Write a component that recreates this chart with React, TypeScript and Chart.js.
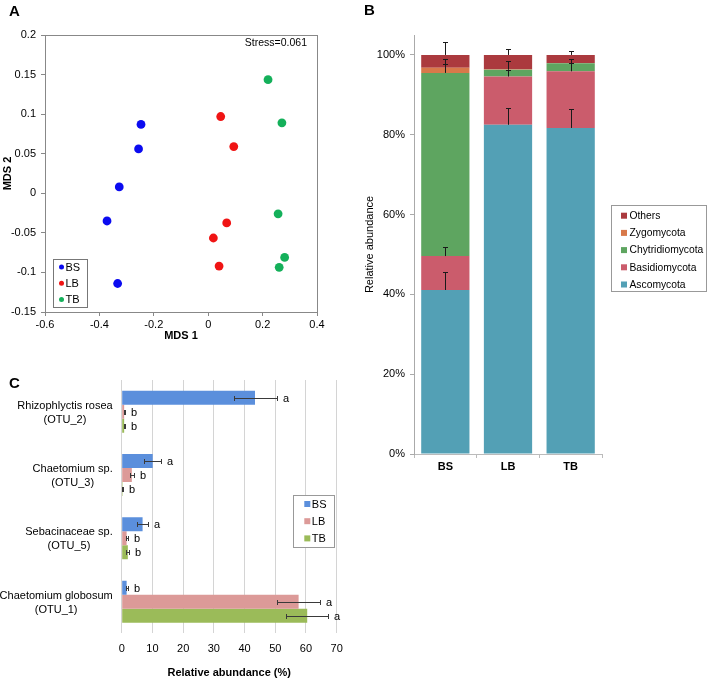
import React, { useEffect, useRef } from 'react';
import { Chart, registerables } from 'chart.js';

Chart.register(...registerables);

const FONT = "'Liberation Sans', Arial, Helvetica, sans-serif";
Chart.defaults.font.family = FONT;
Chart.defaults.color = '#000';

// ---------- Panel A: NMDS ----------
const groupsA = ['BS', 'LB', 'TB'];
const bsX = [-0.247, -0.256, -0.327, -0.372, -0.333];
const bsY = [0.087, 0.056, 0.008, -0.035, -0.114];
const lbX = [0.046, 0.094, 0.068, 0.019, 0.04];
const lbY = [0.097, 0.059, -0.0375, -0.0565, -0.092];
const tbX = [0.22, 0.271, 0.257, 0.281, 0.261];
const tbY = [0.1435, 0.089, -0.026, -0.081, -0.0935];
const colorsA = ['#0b0bf0', '#f01414', '#14b05a'];
const stressText = 'Stress=0.061';

// ---------- Panel B: stacked phyla ----------
const sitesB = ['BS', 'LB', 'TB'];
const phylaB = ['Ascomycota', 'Basidiomycota', 'Chytridiomycota', 'Zygomycota', 'Others'];
const ascomycota = [41.1, 82.5, 81.7];
const basidiomycota = [8.5, 12.1, 14.2];
const chytridiomycota = [45.9, 1.7, 2.0];
const zygomycota = [1.3, 0.1, 0.1];
const others = [3.2, 3.6, 2.0];
const ascoErr = [4.6, 4.2, 4.8];
const basidioErr = [2.2, 1.7, 2.2];
const chytridErr = [2.3, 2.3, 1.2];
const zygoErr = [2.3, 2.2, 1.1];
const othersErr = [3.3, 1.4, 0.9];
const ticksB = [0, 20, 40, 60, 80, 100];
const colorsB = ['#53a0b5', '#cb5c6c', '#5ea560', '#d8794a', '#ab3a3e'];

// ---------- Panel C: OTUs ----------
const taxaC = [
  ['Rhizophlyctis rosea', '(OTU_2)'],
  ['Chaetomium sp.', '(OTU_3)'],
  ['Sebacinaceae sp.', '(OTU_5)'],
  ['Chaetomium globosum', '(OTU_1)'],
];
const groupsC = ['BS', 'LB', 'TB'];
const bsC = [43.4, 10.1, 6.8, 1.6];
const lbC = [0.8, 3.3, 1.6, 57.6];
const tbC = [0.8, 0.3, 2.0, 60.4];
const bsCErr = [7.0, 2.8, 1.9, 0.3];
const lbCErr = [0.2, 0.7, 0.3, 7.0];
const tbCErr = [0.2, 0.1, 0.5, 6.9];
const bsLetters = ['a', 'a', 'a', 'b'];
const lbLetters = ['b', 'b', 'b', 'a'];
const tbLetters = ['b', 'b', 'b', 'a'];
const colorsC = ['#5b8fdc', '#dc9a98', '#9bbb59'];

function fmt(v: number) {
  return String(Math.round(v * 100) / 100);
}

function makeA(): any {
  const xs = [bsX, lbX, tbX];
  const ys = [bsY, lbY, tbY];
  const plugin = {
    id: 'panelA',
    afterDraw(chart: any) {
      const { ctx, chartArea: a } = chart;
      ctx.save();
      ctx.strokeStyle = '#888';
      ctx.lineWidth = 1;
      ctx.strokeRect(Math.round(a.left) + 0.5, Math.round(a.top) + 0.5, Math.round(a.right - a.left), Math.round(a.bottom - a.top));
      // panel letter
      ctx.fillStyle = '#000';
      ctx.font = `bold 15px ${FONT}`;
      ctx.textBaseline = 'alphabetic';
      ctx.textAlign = 'left';
      ctx.fillText('A', 9, 16);
      // stress
      ctx.font = `10.5px ${FONT}`;
      ctx.textAlign = 'right';
      ctx.textBaseline = 'middle';
      ctx.fillText(stressText, a.right - 10, a.top + 8);
      // legend
      const bx = a.left + 8, by = a.bottom - 53, bw = 34, bh = 48;
      ctx.fillStyle = '#fff';
      ctx.fillRect(bx, by, bw, bh);
      ctx.strokeStyle = '#777';
      ctx.strokeRect(Math.round(bx) + 0.5, Math.round(by) + 0.5, bw, bh);
      ctx.font = `11px ${FONT}`;
      ctx.textAlign = 'left';
      groupsA.forEach((g, i) => {
        const cy = by + 8 + i * 16.2;
        ctx.fillStyle = colorsA[i];
        ctx.beginPath();
        ctx.arc(bx + 8.5, cy, 2.5, 0, Math.PI * 2);
        ctx.fill();
        ctx.fillStyle = '#000';
        ctx.fillText(g, bx + 12.5, cy + 0.5);
      });
      ctx.restore();
    },
  };
  return {
    type: 'scatter',
    data: {
      datasets: groupsA.map((g, i) => ({
        label: g,
        data: xs[i].map((x, k) => ({ x, y: ys[i][k] })),
        backgroundColor: colorsA[i],
        borderColor: colorsA[i],
        pointRadius: 4.4,
        pointBorderWidth: 0,
      })),
    },
    options: {
      animation: false,
      responsive: false,
      maintainAspectRatio: false,
      layout: { padding: { left: 0, top: 35, right: 13, bottom: 0 } },
      plugins: { legend: { display: false }, tooltip: { enabled: false } },
      scales: {
        x: {
          type: 'linear',
          min: -0.6,
          max: 0.4,
          ticks: { stepSize: 0.2, padding: 2, font: { size: 11 }, color: '#000', callback: (v: number) => fmt(v) },
          grid: { display: true, drawOnChartArea: false, drawTicks: true, tickLength: 4, color: '#888' },
          border: { color: '#888' },
          title: { display: true, text: 'MDS 1', font: { size: 11, weight: 'bold' }, color: '#000', padding: { top: 0, bottom: 2 } },
          afterFit: (s: any) => { s.height = 33; },
        },
        y: {
          type: 'linear',
          min: -0.15,
          max: 0.2,
          ticks: { stepSize: 0.05, padding: 5, font: { size: 11 }, color: '#000', callback: (v: number) => fmt(v) },
          grid: { display: true, drawOnChartArea: false, drawTicks: true, tickLength: 4, color: '#888' },
          border: { color: '#888' },
          title: { display: true, text: 'MDS 2', font: { size: 11, weight: 'bold' }, color: '#000', padding: { top: 1, bottom: 0 } },
          afterFit: (s: any) => { s.width = 45; },
        },
      },
    },
    plugins: [plugin],
  };
}

function makeB(): any {
  const series = [ascomycota, basidiomycota, chytridiomycota, zygomycota, others];
  const errs = [ascoErr, basidioErr, chytridErr, zygoErr, othersErr];
  const plugin = {
    id: 'panelB',
    afterDatasetsDraw(chart: any) {
      const { ctx } = chart;
      const ys = chart.scales.y;
      ctx.save();
      ctx.strokeStyle = '#1a1a1a';
      ctx.lineWidth = 1;
      for (let j = 0; j < sitesB.length; j++) {
        let cum = 0;
        for (let i = 0; i < series.length; i++) {
          cum += series[i][j];
          const bar = chart.getDatasetMeta(i).data[j];
          const x = Math.round(bar.x) + 0.5;
          const y0 = ys.getPixelForValue(cum);
          const y1 = Math.round(ys.getPixelForValue(cum + errs[i][j])) + 0.5;
          ctx.beginPath();
          ctx.moveTo(x, y0);
          ctx.lineTo(x, y1);
          ctx.moveTo(x - 2.5, y1);
          ctx.lineTo(x + 2.5, y1);
          ctx.stroke();
        }
      }
      ctx.restore();
    },
    afterDraw(chart: any) {
      const { ctx, chartArea: a } = chart;
      ctx.save();
      ctx.fillStyle = '#000';
      ctx.font = `bold 15px ${FONT}`;
      ctx.textAlign = 'left';
      ctx.textBaseline = 'alphabetic';
      ctx.fillText('B', 34, 15);
      // legend
      const bx = a.right + 9, by = 205, bw = 95, bh = 86;
      ctx.fillStyle = '#fff';
      ctx.fillRect(bx, by, bw, bh);
      ctx.strokeStyle = '#999';
      ctx.lineWidth = 1;
      ctx.strokeRect(Math.round(bx) + 0.5, by + 0.5, bw, bh);
      ctx.font = `10.3px ${FONT}`;
      ctx.textBaseline = 'middle';
      for (let k = 0; k < phylaB.length; k++) {
        const i = phylaB.length - 1 - k;
        const cy = by + 10.7 + k * 17.2;
        ctx.fillStyle = colorsB[i];
        ctx.fillRect(bx + 10, cy - 3, 6, 6);
        ctx.fillStyle = '#000';
        ctx.fillText(phylaB[i], bx + 18.5, cy + 0.5);
      }
      ctx.restore();
    },
  };
  return {
    type: 'bar',
    data: {
      labels: sitesB,
      datasets: phylaB.map((p, i) => ({
        label: p,
        data: series[i],
        backgroundColor: colorsB[i],
        borderWidth: 0,
        categoryPercentage: 1,
        barPercentage: 0.77,
      })),
    },
    options: {
      animation: false,
      responsive: false,
      maintainAspectRatio: false,
      layout: { padding: { left: 0, top: 35, right: 114, bottom: 0 } },
      plugins: { legend: { display: false }, tooltip: { enabled: false } },
      scales: {
        x: {
          stacked: true,
          ticks: { padding: 2, font: { size: 11, weight: 'bold' }, color: '#000' },
          grid: { display: true, drawOnChartArea: false, drawTicks: true, tickLength: 4, color: '#bbb' },
          border: { color: '#bbb' },
          afterFit: (s: any) => { s.height = 26; },
        },
        y: {
          stacked: true,
          min: 0,
          max: 105,
          afterBuildTicks: (s: any) => { s.ticks = ticksB.map((v) => ({ value: v })); },
          ticks: { padding: 5, font: { size: 11 }, color: '#000', callback: (v: number) => v + '%' },
          grid: { display: true, drawOnChartArea: false, drawTicks: true, tickLength: 4, color: '#aaa' },
          border: { color: '#aaa' },
          title: { display: true, text: 'Relative abundance', font: { size: 11 }, color: '#000', padding: { top: 33, bottom: 0 } },
          afterFit: (s: any) => { s.width = 84; },
        },
      },
    },
    plugins: [plugin],
  };
}

function makeC(): any {
  const vals = [bsC, lbC, tbC];
  const errs = [bsCErr, lbCErr, tbCErr];
  const letters = [bsLetters, lbLetters, tbLetters];
  const plugin = {
    id: 'panelC',
    afterDatasetsDraw(chart: any) {
      const { ctx } = chart;
      const xs = chart.scales.x;
      ctx.save();
      ctx.strokeStyle = '#3a3a3a';
      ctx.lineWidth = 1;
      ctx.fillStyle = '#000';
      ctx.font = `11px ${FONT}`;
      ctx.textAlign = 'left';
      ctx.textBaseline = 'middle';
      for (let i = 0; i < vals.length; i++) {
        const meta = chart.getDatasetMeta(i);
        for (let j = 0; j < taxaC.length; j++) {
          const bar = meta.data[j];
          const y = Math.round(bar.y) + 0.5;
          const x0 = Math.round(xs.getPixelForValue(vals[i][j] - errs[i][j])) + 0.5;
          const x1 = Math.round(xs.getPixelForValue(vals[i][j] + errs[i][j])) + 0.5;
          ctx.beginPath();
          ctx.moveTo(x0, y);
          ctx.lineTo(x1, y);
          ctx.moveTo(x0, y - 2.5);
          ctx.lineTo(x0, y + 2.5);
          ctx.moveTo(x1, y - 2.5);
          ctx.lineTo(x1, y + 2.5);
          ctx.stroke();
          ctx.fillText(letters[i][j], x1 + 5.5, y + 0.5);
        }
      }
      ctx.restore();
    },
    afterDraw(chart: any) {
      const { ctx, chartArea: a } = chart;
      const ysc = chart.scales.y;
      ctx.save();
      ctx.fillStyle = '#000';
      ctx.font = `bold 15px ${FONT}`;
      ctx.textAlign = 'left';
      ctx.textBaseline = 'alphabetic';
      ctx.fillText('C', 9, 48);
      // category labels: block right-aligned, lines centred
      ctx.font = `11px ${FONT}`;
      ctx.textAlign = 'center';
      ctx.textBaseline = 'middle';
      taxaC.forEach((lines, j) => {
        const cy = ysc.getPixelForTick(j);
        const w = Math.max(...lines.map((l) => ctx.measureText(l).width));
        const cx = a.left - 9 - w / 2;
        lines.forEach((l, k) => {
          ctx.fillText(l, cx, cy + 1 + (k - (lines.length - 1) / 2) * 14);
        });
      });
      // legend
      const bx = a.right - 43.4, by = 155, bw = 41, bh = 52;
      ctx.fillStyle = '#fff';
      ctx.fillRect(bx, by, bw, bh);
      ctx.strokeStyle = '#999';
      ctx.lineWidth = 1;
      ctx.strokeRect(Math.round(bx) + 0.5, by + 0.5, bw, bh);
      ctx.textAlign = 'left';
      groupsC.forEach((g, i) => {
        const cy = by + 9 + i * 17.2;
        ctx.fillStyle = colorsC[i];
        ctx.fillRect(bx + 11, cy - 3, 6, 6);
        ctx.fillStyle = '#000';
        ctx.fillText(g, bx + 18.5, cy + 0.5);
      });
      ctx.restore();
    },
  };
  return {
    type: 'bar',
    data: {
      labels: taxaC.map((l) => l.join(' ')),
      datasets: groupsC.map((g, i) => ({
        label: g,
        data: vals[i],
        backgroundColor: colorsC[i],
        borderWidth: 0,
        categoryPercentage: 0.663,
        barPercentage: 1,
      })),
    },
    options: {
      indexAxis: 'y',
      animation: false,
      responsive: false,
      maintainAspectRatio: false,
      layout: { padding: { left: 0, top: 40, right: 23.3, bottom: 0 } },
      plugins: { legend: { display: false }, tooltip: { enabled: false } },
      scales: {
        x: {
          min: 0,
          max: 70,
          ticks: { stepSize: 10, padding: 9, font: { size: 11 }, color: '#000' },
          grid: { color: '#d4d4d4', drawTicks: false },
          border: { display: false },
          title: { display: true, text: 'Relative abundance (%)', font: { size: 11, weight: 'bold' }, color: '#000', padding: { top: 0, bottom: 0 } },
          afterFit: (s: any) => { s.height = 46.7; },
        },
        y: {
          ticks: { display: false },
          grid: { display: false },
          border: { display: false },
          afterFit: (s: any) => { s.width = 121.7; },
        },
      },
    },
    plugins: [plugin],
  };
}

function ChartBox(props: { left: number; top: number; width: number; height: number; make: () => any }) {
  const ref = useRef<HTMLCanvasElement>(null);
  useEffect(() => {
    const chart = new Chart(ref.current as HTMLCanvasElement, props.make());
    return () => chart.destroy();
  }, []);
  return (
    <canvas
      ref={ref}
      width={props.width}
      height={props.height}
      style={{ position: 'absolute', left: props.left, top: props.top, width: props.width, height: props.height }}
    />
  );
}

export default function App() {
  return (
    <div style={{ position: 'fixed', left: 0, top: 0, width: 716, height: 680, background: '#fff', overflow: 'hidden' }}>
      <ChartBox left={0} top={0} width={330} height={345} make={makeA} />
      <ChartBox left={330} top={0} width={386} height={480} make={makeB} />
      <ChartBox left={0} top={340} width={360} height={340} make={makeC} />
    </div>
  );
}
